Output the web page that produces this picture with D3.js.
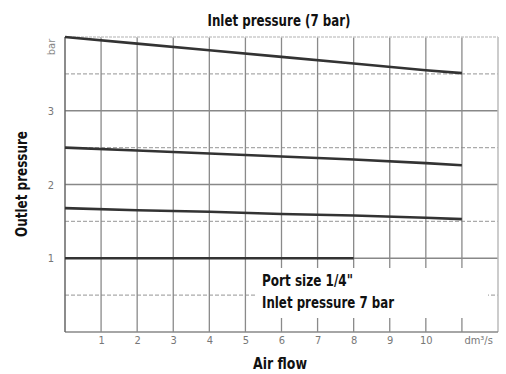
<!DOCTYPE html>
<html lang="en">
<head>
<meta charset="UTF-8">
<script src="https://cdnjs.cloudflare.com/ajax/libs/d3/7.8.5/d3.min.js"></script>
<style>
body{ margin:0; background:#fff; }
svg text{ font-family:"Liberation Sans Narrow","DejaVu Sans Condensed",Arial,sans-serif; }
.bold{ font-weight:bold; fill:#111; }
.tick text{ fill:#777; }
</style>
</head>
<body>
<div id="main-container"></div>
<script type="text/javascript">
/* global d3 */

// air flow positions (dm3/s) where curve values were read
const flowTop = [0, 2, 4, 6, 8, 10, 11];
const curve1 = [4.00, 3.91, 3.82, 3.73, 3.64, 3.55, 3.51];
const curve2 = [2.50, 2.46, 2.42, 2.38, 2.34, 2.29, 2.26];
const curve3 = [1.68, 1.65, 1.63, 1.60, 1.58, 1.55, 1.53];
const flowLow = [0, 4, 8];
const curve4 = [1.00, 1.00, 1.00];

const xTickVals = [1, 2, 3, 4, 5, 6, 7, 8, 9, 10, 11];
const xTickLabels = ['1', '2', '3', '4', '5', '6', '7', '8', '9', '10', 'dm\u00b3/s'];
const yTickVals = [1, 2, 3];

const w = 506, h = 374;
const plotL = 65, plotR = 498, plotT = 37, plotB = 332;

const svg = d3.select('#main-container').append('svg').attr('width', w).attr('height', h);

const xScale = d3.scaleLinear().domain([0, 12]).range([plotL, plotR]);
const yScale = d3.scaleLinear().domain([0, 4]).range([plotB, plotT]);

// grid
const grid = svg.append('g');
grid.selectAll('.hgrid').data(d3.range(0.5, 4, 0.5)).enter().append('line')
  .attr('x1', plotL).attr('x2', plotR)
  .attr('y1', d => yScale(d)).attr('y2', d => yScale(d))
  .attr('stroke', d => d % 1 === 0 ? '#888' : '#aaa')
  .attr('stroke-width', 1.3)
  .attr('stroke-dasharray', d => d % 1 === 0 ? null : '4,2');
grid.selectAll('.vgrid').data(d3.range(1, 12)).enter().append('line')
  .attr('x1', d => xScale(d)).attr('x2', d => xScale(d))
  .attr('y1', plotT).attr('y2', plotB)
  .attr('stroke', '#8a8a8a').attr('stroke-width', 1.3);
// frame
grid.append('line').attr('x1', plotR).attr('x2', plotR).attr('y1', plotT).attr('y2', plotB)
  .attr('stroke', '#bbb').attr('stroke-width', 1.5);
grid.append('line').attr('x1', plotL).attr('x2', plotR).attr('y1', plotT).attr('y2', plotT)
  .attr('stroke', '#ccc').attr('stroke-width', 1.5).attr('stroke-dasharray', '3,1');
grid.append('line').attr('x1', plotL).attr('x2', plotR).attr('y1', plotB).attr('y2', plotB)
  .attr('stroke', '#888').attr('stroke-width', 1.5);
grid.append('line').attr('x1', plotL).attr('x2', plotL).attr('y1', plotT).attr('y2', plotB)
  .attr('stroke', '#666').attr('stroke-width', 1.5);

// axes (labels only)
const xAxis = d3.axisBottom(xScale).tickValues(xTickVals).tickSize(0).tickPadding(4)
  .tickFormat((d, i) => xTickLabels[i]);
const gx = svg.append('g').attr('transform', 'translate(0,' + plotB + ')').call(xAxis);
gx.select('.domain').remove();
gx.selectAll('text').style('font-size', '11px');
gx.selectAll('.tick:last-of-type text').attr('text-anchor', 'start').attr('x', 2);

const yAxis = d3.axisLeft(yScale).tickValues(yTickVals).tickSize(0).tickPadding(11)
  .tickFormat(d3.format('d'));
const gy = svg.append('g').attr('transform', 'translate(' + plotL + ',0)').call(yAxis);
gy.select('.domain').remove();
gy.selectAll('text').style('font-size', '11px');

svg.append('text').attr('transform', 'translate(55,' + (yScale(4) + 10) + ') rotate(-90)')
  .style('text-anchor', 'middle').style('font-size', '11px').attr('fill', '#888').text('bar');

// curves
const line = d3.line().x(d => xScale(d[0])).y(d => yScale(d[1]));
const curves = [
  d3.zip(flowTop, curve1),
  d3.zip(flowTop, curve2),
  d3.zip(flowTop, curve3),
  d3.zip(flowLow, curve4)
];
svg.selectAll('.curve').data(curves).enter().append('path')
  .attr('d', line).attr('fill', 'none')
  .attr('stroke', '#333').attr('stroke-width', 2.6);

// annotation box
svg.append('rect').attr('x', 255).attr('y', 268).attr('width', 233).attr('height', 50).attr('fill', '#fff');
svg.append('text').attr('class', 'bold').attr('x', 262).attr('y', 286).style('font-size', '15px')
  .attr('textLength', 91).attr('lengthAdjust', 'spacingAndGlyphs').text('Port size 1/4"');
svg.append('text').attr('class', 'bold').attr('x', 262).attr('y', 308).style('font-size', '15px')
  .attr('textLength', 132).attr('lengthAdjust', 'spacingAndGlyphs').text('Inlet pressure 7 bar');

// titles
svg.append('text').attr('class', 'bold').attr('x', 279).attr('y', 26).style('text-anchor', 'middle')
  .style('font-size', '15px').attr('textLength', 143).attr('lengthAdjust', 'spacingAndGlyphs')
  .text('Inlet pressure (7 bar)');
svg.append('text').attr('class', 'bold').attr('x', 280).attr('y', 369).style('text-anchor', 'middle')
  .style('font-size', '15px').attr('textLength', 54).attr('lengthAdjust', 'spacingAndGlyphs')
  .text('Air flow');
svg.append('text').attr('class', 'bold').attr('transform', 'translate(27,184) rotate(-90)')
  .style('text-anchor', 'middle').style('font-size', '15px')
  .attr('textLength', 106).attr('lengthAdjust', 'spacingAndGlyphs').text('Outlet pressure');
</script>
</body>
</html>
